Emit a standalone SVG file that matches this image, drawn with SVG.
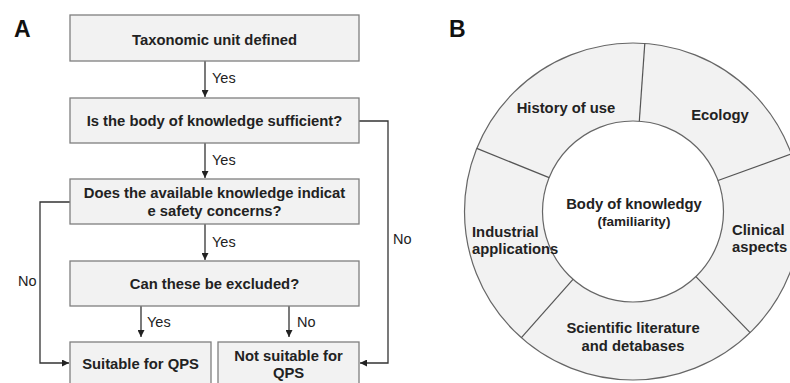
<svg xmlns="http://www.w3.org/2000/svg" width="790" height="383" viewBox="0 0 790 383">
<style>
.box{fill:#f2f2f2;stroke:#7f7f7f;stroke-width:1.3}
.bt{font-family:"Liberation Sans",Arial,sans-serif;font-weight:bold;font-size:14.8px;fill:#222;text-anchor:middle}
.lb{font-family:"Liberation Sans",Arial,sans-serif;font-size:14.5px;fill:#222}
.pl{font-family:"Liberation Sans",Arial,sans-serif;font-weight:bold;font-size:23px;fill:#111}
.con{fill:none;stroke:#333;stroke-width:1.3}
.ring{fill:#f2f2f2;stroke:#666;stroke-width:1.2}
.div{stroke:#555;stroke-width:1.2}
</style>
<defs>
<marker id="ah" viewBox="0 0 10 10" refX="10" refY="5" markerWidth="7" markerHeight="7" markerUnits="userSpaceOnUse" orient="auto">
<path d="M0,0 L10,5 L0,10 z" fill="#222"/>
</marker>
</defs>
<text class="pl" x="14" y="37">A</text>
<text class="pl" x="449" y="37">B</text>
<g id="connectors">
<line class="con" x1="205" y1="61" x2="205" y2="97" marker-end="url(#ah)"/>
<line class="con" x1="205" y1="143" x2="205" y2="178" marker-end="url(#ah)"/>
<line class="con" x1="205" y1="224" x2="205" y2="260" marker-end="url(#ah)"/>
<line class="con" x1="141" y1="306" x2="141" y2="337" marker-end="url(#ah)"/>
<line class="con" x1="289" y1="306" x2="289" y2="337" marker-end="url(#ah)"/>
<polyline class="con" points="359,121 388,121 388,363 360,363" marker-end="url(#ah)"/>
<polyline class="con" points="70,202 40,202 40,363 69,363" marker-end="url(#ah)"/>
<text class="lb" x="212" y="83">Yes</text>
<text class="lb" x="212" y="165">Yes</text>
<text class="lb" x="212" y="247">Yes</text>
<text class="lb" x="147" y="327">Yes</text>
<text class="lb" x="297" y="327">No</text>
<text class="lb" x="18" y="286">No</text>
<text class="lb" x="393" y="244">No</text>
</g>
<g id="n1"><rect class="box" x="70" y="15" width="289" height="46"/><text class="bt" x="214.5" y="45">Taxonomic unit defined</text></g>
<g id="n2"><rect class="box" x="70" y="98" width="289" height="45"/><text class="bt" x="214.5" y="126">Is the body of knowledge sufficient?</text></g>
<g id="n3"><rect class="box" x="70" y="179" width="289" height="45"/><text class="bt" x="214.5" y="198">Does the available knowledge indicat</text><text class="bt" x="214.5" y="216">e safety concerns?</text></g>
<g id="n4"><rect class="box" x="70" y="261" width="289" height="45"/><text class="bt" x="214.5" y="289">Can these be excluded?</text></g>
<g id="n5"><rect class="box" x="70" y="342" width="141" height="52"/><text class="bt" x="140.5" y="369">Suitable for QPS</text></g>
<g id="n6"><rect class="box" x="218" y="342" width="141" height="52"/><text class="bt" x="288.5" y="361">Not suitable for</text><text class="bt" x="288.5" y="378">QPS</text></g>
<g id="ring">
<circle class="ring" cx="633" cy="211.5" r="168.5"/>
<circle cx="633" cy="211.5" r="90.5" fill="#fff" stroke="#666" stroke-width="1.2"/>
<line class="div" x1="639.3" y1="121.2" x2="644.8" y2="43.4"/>
<line class="div" x1="718" y1="180.5" x2="791.3" y2="153.9"/>
<line class="div" x1="695.9" y1="276.6" x2="750.1" y2="332.7"/>
<line class="div" x1="573" y1="279.3" x2="521.4" y2="337.7"/>
<line class="div" x1="549.1" y1="177.6" x2="476.8" y2="148.4"/>
</g>
<g id="s-history"><text class="bt" x="566" y="113">History of use</text></g>
<g id="s-ecology"><text class="bt" x="720" y="120">Ecology</text></g>
<g id="s-center"><text class="bt" x="634" y="209">Body of knowledgy</text><text class="bt" x="634" y="226" style="font-size:13.5px">(familiarity)</text></g>
<g id="s-industrial"><text class="bt" x="472" y="237" style="text-anchor:start">Industrial</text><text class="bt" x="472" y="254" style="text-anchor:start">applications</text></g>
<g id="s-clinical"><text class="bt" x="732" y="235" style="text-anchor:start">Clinical</text><text class="bt" x="732" y="252" style="text-anchor:start">aspects</text></g>
<g id="s-scientific"><text class="bt" x="633" y="333">Scientific literature</text><text class="bt" x="633" y="351">and detabases</text></g>
</svg>
